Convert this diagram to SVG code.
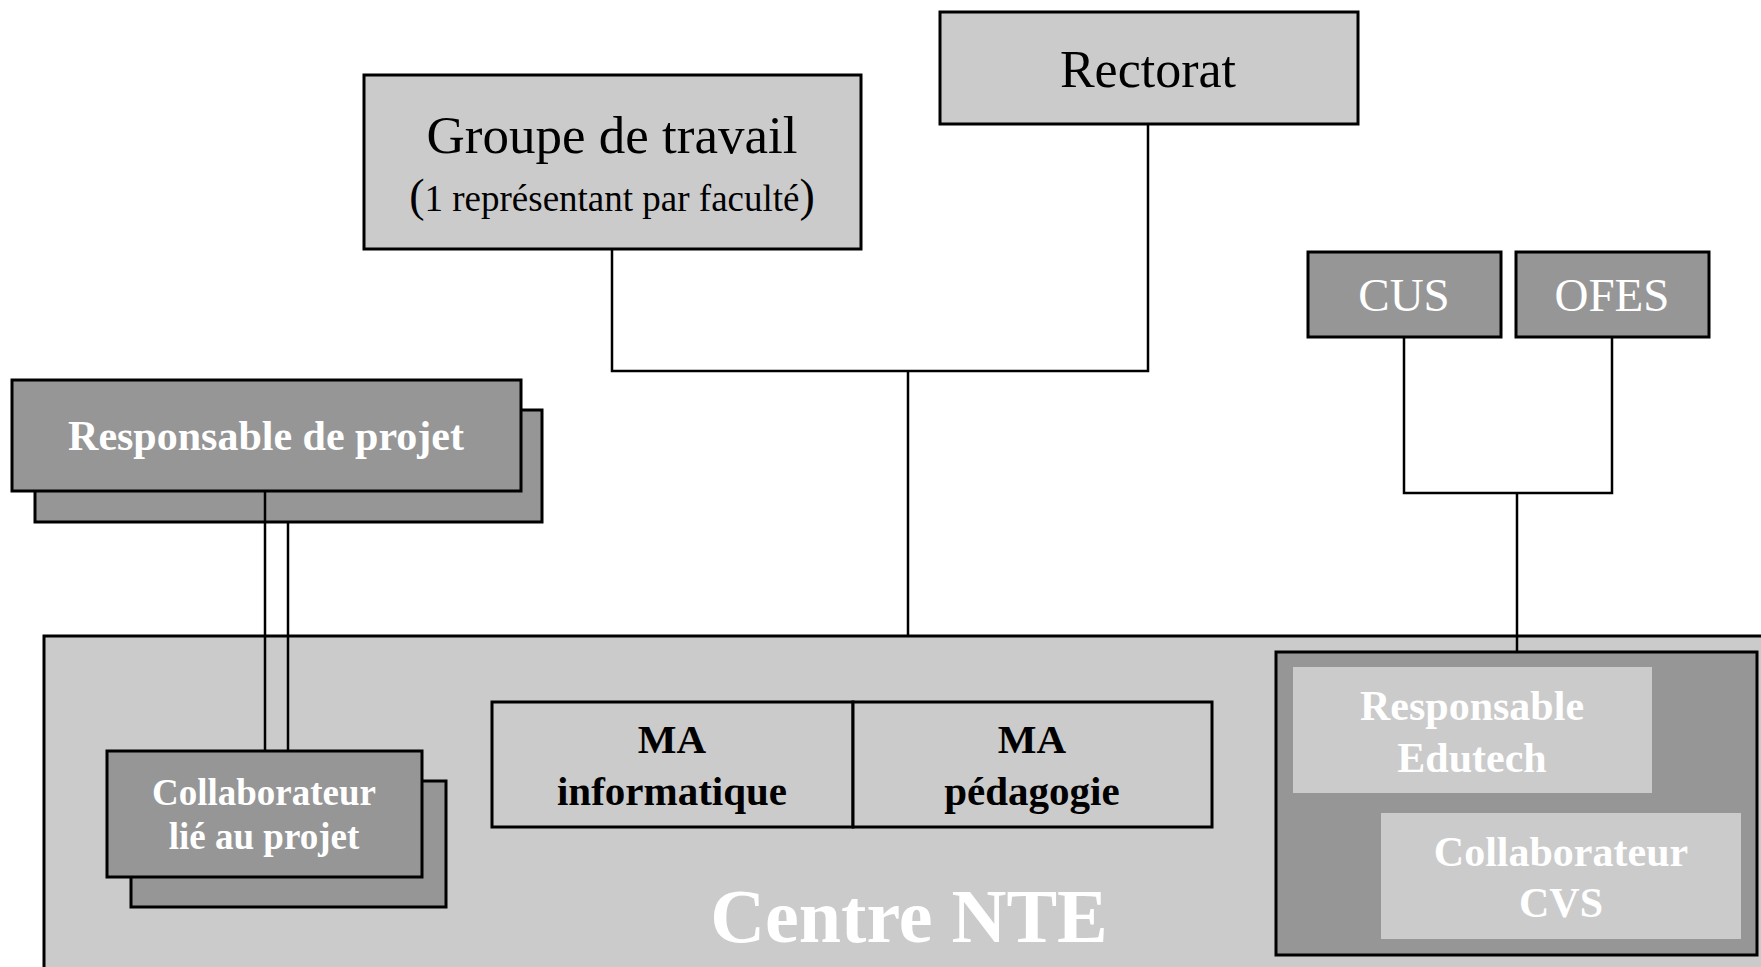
<svg xmlns="http://www.w3.org/2000/svg" width="1761" height="967" viewBox="0 0 1761 967">
<style>
.light{fill:#cbcbcb;stroke:#000;stroke-width:3}
.dark{fill:#969696;stroke:#000;stroke-width:3}
.inner{fill:#cbcbcb;stroke:none}
.t{font-family:"Liberation Serif","Times New Roman",serif;text-anchor:middle}
.b{font-weight:bold}
.w{fill:#fff}
.k{fill:#000}
.conn line,.conn polyline{stroke:#000;stroke-width:2.5;fill:none}
</style>
<rect width="1761" height="967" fill="#fff"/>
<g id="centre-nte">
<rect class="light" x="44" y="636" width="1760" height="400"/>
<text class="t b w" x="909" y="942" font-size="76">Centre NTE</text>
</g>
<g id="groupe-travail">
<rect class="light" x="364" y="75" width="497" height="174"/>
<text class="t k" x="612" y="153" font-size="53">Groupe de travail</text>
<text class="t k" x="612" y="211" font-size="37"><tspan font-size="46">(</tspan>1 représentant par faculté<tspan font-size="46">)</tspan></text>
</g>
<g id="rectorat">
<rect class="light" x="940" y="12" width="418" height="112"/>
<text class="t k" x="1148" y="87" font-size="52">Rectorat</text>
</g>
<g id="cus">
<rect class="dark" x="1308" y="252" width="193" height="85"/>
<text class="t w" x="1404" y="311" font-size="47">CUS</text>
</g>
<g id="ofes">
<rect class="dark" x="1516" y="252" width="193" height="85"/>
<text class="t w" x="1612" y="311" font-size="47">OFES</text>
</g>
<g id="responsable-projet">
<rect class="dark" x="35" y="410" width="507" height="112"/>
<rect class="dark" x="12" y="380" width="509" height="111"/>
<text class="t b w" x="266" y="450" font-size="42">Responsable de projet</text>
</g>
<g id="collaborateur-projet">
<rect class="dark" x="131" y="781" width="315" height="126"/>
<rect class="dark" x="107" y="751" width="315" height="126"/>
<text class="t b w" x="264" y="805" font-size="37">Collaborateur</text>
<text class="t b w" x="264" y="849" font-size="37">lié au projet</text>
</g>
<g id="ma-informatique">
<rect class="light" x="492" y="702" width="361" height="125"/>
<text class="t b k" x="672" y="753" font-size="41">MA</text>
<text class="t b k" x="672" y="805" font-size="41">informatique</text>
</g>
<g id="ma-pedagogie">
<rect class="light" x="853" y="702" width="359" height="125"/>
<text class="t b k" x="1032" y="753" font-size="41">MA</text>
<text class="t b k" x="1032" y="805" font-size="41">pédagogie</text>
</g>
<g id="edutech-group">
<rect class="dark" x="1276" y="652" width="481" height="303"/>
</g>
<g id="responsable-edutech">
<rect class="inner" x="1293" y="667" width="359" height="126"/>
<text class="t b w" x="1472" y="720" font-size="42">Responsable</text>
<text class="t b w" x="1472" y="772" font-size="42">Edutech</text>
</g>
<g id="collaborateur-cvs">
<rect class="inner" x="1381" y="813" width="360" height="126"/>
<text class="t b w" x="1561" y="866" font-size="42">Collaborateur</text>
<text class="t b w" x="1561" y="917" font-size="42">CVS</text>
</g>
<g id="connectors" class="conn">
<polyline points="612,249 612,371 1148,371 1148,124"/>
<line x1="908" y1="371" x2="908" y2="636"/>
<polyline points="1404,337 1404,493 1612,493 1612,337"/>
<line x1="1517" y1="493" x2="1517" y2="652"/>
<line x1="265" y1="491" x2="265" y2="751"/>
<line x1="288" y1="522" x2="288" y2="751"/>
</g>
</svg>
